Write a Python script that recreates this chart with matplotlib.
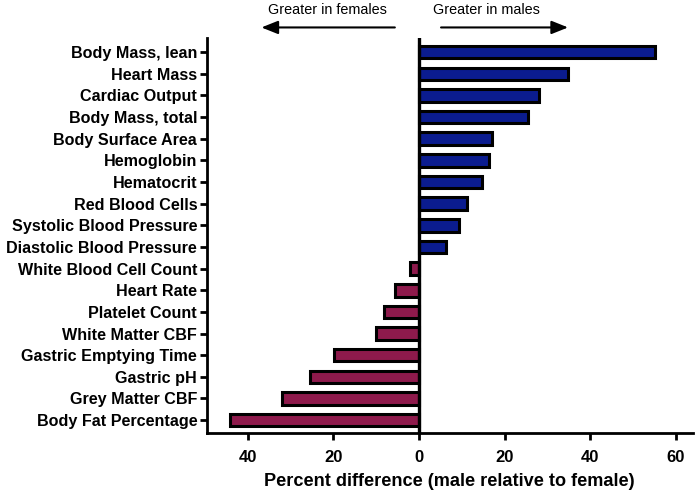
import matplotlib
matplotlib.use("Agg")
import matplotlib.pyplot as plt
from matplotlib.ticker import FuncFormatter

categories = ["Body Mass, lean", "Heart Mass", "Cardiac Output", "Body Mass, total",
              "Body Surface Area", "Hemoglobin", "Hematocrit", "Red Blood Cells",
              "Systolic Blood Pressure", "Diastolic Blood Pressure",
              "White Blood Cell Count", "Heart Rate", "Platelet Count",
              "White Matter CBF", "Gastric Emptying Time", "Gastric pH",
              "Grey Matter CBF", "Body Fat Percentage"]
values = [55.2, 34.9, 28.1, 25.4, 17.0, 16.4, 14.7, 11.2, 9.3, 6.3,
          -2.1, -5.6, -8.2, -10.1, -19.9, -25.4, -32.1, -44.2]
xticks = [-40, -20, 0, 20, 40, 60]

plt.rcParams['font.family'] = ['Liberation Sans', 'DejaVu Sans']

fig = plt.figure(figsize=(6.99, 4.95), dpi=100)
ax = fig.add_axes([0.296, 0.125, 0.695, 0.798])

blue = '#0b1c8f'
red = '#8e1a4c'
colors = [blue if v > 0 else red for v in values]
y = list(range(len(categories)))
ax.barh(y, values, height=0.58, color=colors, edgecolor='black', linewidth=2.2, zorder=2)
ax.axvline(0, color='black', linewidth=2.4, zorder=3)

ax.set_ylim(len(categories) - 0.4, -0.65)
ax.set_xlim(-49.6, 64)
ax.set_yticks(y)
ax.set_yticklabels(categories, fontsize=11.6, fontweight='bold')
ax.set_xticks(xticks)
ax.xaxis.set_major_formatter(FuncFormatter(lambda v, p: f"{abs(int(v))}"))
for lab in ax.get_xticklabels():
    lab.set_fontweight('bold')
    lab.set_fontsize(12)
ax.set_xlabel("Percent difference (male relative to female)", fontsize=13.1, fontweight='bold', labelpad=6)

for s in ['top', 'right']:
    ax.spines[s].set_visible(False)
for s in ['left', 'bottom']:
    ax.spines[s].set_linewidth(2.0)
ax.tick_params(axis='y', width=2.0, length=5, pad=2)
ax.tick_params(axis='x', width=2.0, length=5, pad=7)

trans = ax.get_xaxis_transform()
ax.annotate("", xy=(-37.5, 1.027), xytext=(-5, 1.027), xycoords=trans, textcoords=trans,
            arrowprops=dict(arrowstyle='-|>,head_length=1.0,head_width=0.4', color='black', lw=1.5),
            annotation_clip=False)
ax.annotate("", xy=(35.5, 1.027), xytext=(4.5, 1.027), xycoords=trans, textcoords=trans,
            arrowprops=dict(arrowstyle='-|>,head_length=1.0,head_width=0.4', color='black', lw=1.5),
            annotation_clip=False)
ax.text(-21.5, 1.072, "Greater in females", transform=trans, ha='center', va='center', fontsize=10.4)
ax.text(15.8, 1.072, "Greater in males", transform=trans, ha='center', va='center', fontsize=10.4)

fig.savefig("out.png", dpi=100)
